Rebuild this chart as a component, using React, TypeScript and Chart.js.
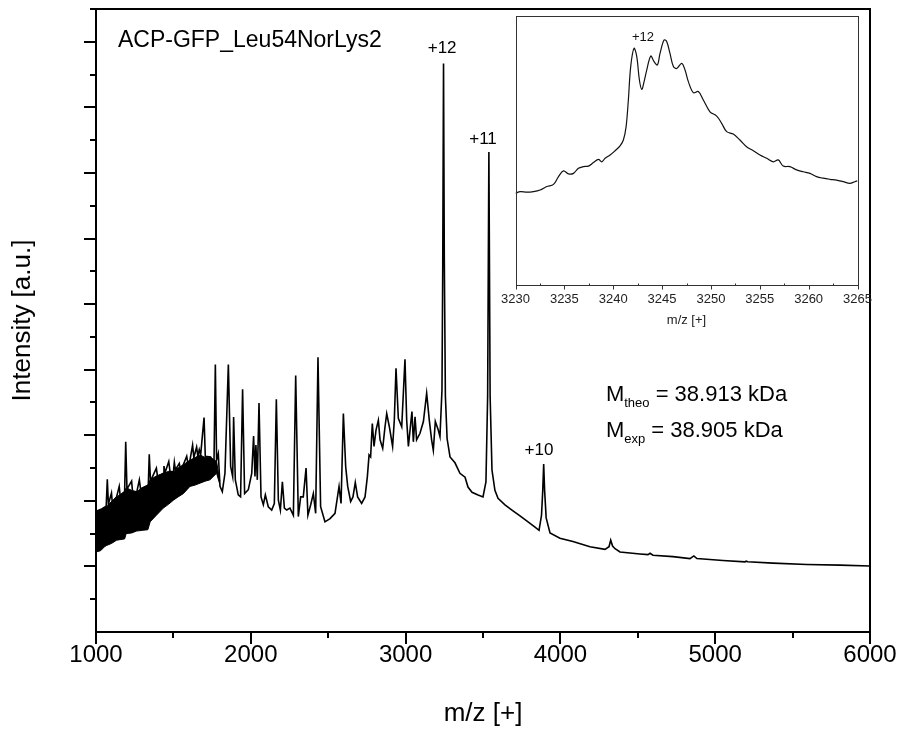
import React, { useEffect, useRef } from "react";
import { Chart, registerables } from "chart.js";

Chart.register(...registerables);

const FONT = "'Liberation Sans', Arial, Helvetica, sans-serif";

// ---------- main spectrum (m/z vs intensity, a.u.) ----------
const spectrumMz = [
  1000, 1040, 1066, 1073, 1080, 1100, 1105, 1133, 1150, 1156, 1185, 1192, 1200, 1230, 1236, 1263,
  1280, 1288, 1338, 1344, 1352, 1390, 1398, 1435, 1439, 1446, 1470, 1478, 1500, 1506, 1513, 1538,
  1546, 1564, 1586, 1594, 1607, 1624, 1632, 1650, 1658, 1667, 1676, 1698, 1706, 1740, 1762, 1771,
  1779, 1790, 1801, 1816, 1833, 1855, 1870, 1883, 1889, 1900, 1919, 1934, 1947, 1960, 1984, 2006,
  2018, 2027, 2033, 2042, 2053, 2066, 2081, 2094, 2113, 2135, 2152, 2165, 2178, 2191, 2204, 2217,
  2232, 2253, 2275, 2290, 2307, 2322, 2339, 2357, 2369, 2387, 2404, 2419, 2434, 2451, 2479, 2512,
  2544, 2570, 2583, 2598, 2613, 2626, 2645, 2660, 2675, 2690, 2716, 2738, 2753, 2764, 2774, 2785,
  2796, 2809, 2824, 2835, 2852, 2867, 2878, 2895, 2916, 2927, 2938, 2953, 2975, 2996, 3007, 3018,
  3033, 3041, 3050, 3061, 3071, 3093, 3115, 3136, 3153, 3168, 3179, 3192, 3211, 3222, 3235, 3240,
  3245, 3250, 3257, 3268, 3287, 3319, 3351, 3384, 3403, 3429, 3468, 3500, 3519, 3530, 3538, 3546,
  3558, 3577, 3597, 3642, 3687, 3739, 3791, 3836, 3862, 3878, 3886, 3892, 3898, 3908, 3933, 3997,
  4081, 4191, 4288, 4314, 4325, 4337, 4353, 4385, 4514, 4566, 4579, 4598, 4727, 4837, 4862, 4882,
  5050, 5192, 5200, 5210, 5373, 5591, 5806, 6000,
];
const spectrumIntensity = [
  1.84, 1.88, 1.92, 2.33, 1.95, 2.12, 1.98, 2.06, 2.22, 2.08, 2.14, 2.9, 2.18, 2.3, 2.14, 2.13,
  2.32, 2.18, 2.24, 2.71, 2.3, 2.5, 2.36, 2.42, 2.53, 2.43, 2.6, 2.45, 2.44, 2.59, 2.47, 2.57,
  2.48, 2.55, 2.68, 2.56, 2.62, 2.85, 2.66, 2.82, 2.68, 2.78, 2.7, 3.27, 2.68, 2.67, 2.55, 4.08,
  2.62, 2.72, 2.22, 2.14, 2.42, 4.08, 2.52, 2.37, 3.28, 2.32, 2.09, 2.06, 3.7, 2.11, 2.17, 2.42,
  2.99, 2.37, 2.85, 2.32, 3.49, 2.06, 1.94, 2.09, 1.91, 1.86, 1.96, 3.55, 2.01, 1.86, 2.29, 1.89,
  1.86, 1.89, 1.78, 3.91, 1.76, 2.06, 2.06, 2.5, 1.78, 1.94, 2.11, 1.81, 4.19, 1.91, 1.68, 1.73,
  1.81, 2.22, 1.96, 3.33, 2.52, 2.22, 1.99, 2.06, 2.28, 2.06, 1.96, 2.06, 2.37, 2.7, 2.67, 3.18,
  2.83, 3.08, 3.23, 2.93, 2.8, 3.13, 3.33, 3.13, 2.83, 3.23, 4.02, 3.26, 3.13, 4.16, 3.23, 2.83,
  3.18, 3.36, 2.9, 3.28, 2.93, 3.03, 3.21, 3.64, 3.23, 2.93, 2.77, 3.21, 3.08, 2.98, 3.69, 5.6,
  8.67, 5.7, 3.6, 2.95, 2.67, 2.58, 2.42, 2.36, 2.21, 2.13, 2.09, 2.06, 2.29, 3.6, 7.32, 3.6,
  2.47, 2.16, 2.04, 1.94, 1.86, 1.77, 1.68, 1.6, 1.55, 1.78, 2.16, 2.56, 2.16, 1.74, 1.51, 1.43,
  1.38, 1.3, 1.26, 1.3, 1.4, 1.31, 1.27, 1.22, 1.19, 1.18, 1.2, 1.17, 1.15, 1.12, 1.16, 1.12,
  1.09, 1.07, 1.08, 1.07, 1.05, 1.03, 1.02, 1.006,
];

// dense noise band at low m/z (upper / lower envelope)
const bandMz = [1000, 1030, 1055, 1069, 1100, 1133, 1185, 1195, 1230, 1263, 1300, 1335, 1350, 1390, 1435, 1470, 1500, 1530, 1564, 1607, 1640, 1672, 1705, 1736, 1779, 1800];
const bandUpper = [1.84, 1.86, 1.9, 1.91, 1.99, 2.06, 2.14, 2.2, 2.16, 2.14, 2.2, 2.24, 2.32, 2.38, 2.42, 2.45, 2.44, 2.5, 2.55, 2.62, 2.66, 2.7, 2.66, 2.67, 2.6, 2.3];
const bandLower = [1.22, 1.24, 1.3, 1.32, 1.35, 1.4, 1.42, 1.5, 1.51, 1.54, 1.55, 1.56, 1.68, 1.78, 1.89, 1.95, 2.01, 2.06, 2.11, 2.22, 2.24, 2.27, 2.3, 2.32, 2.42, 2.25];

// ---------- inset: +12 charge state, zoomed ----------
const insetMz = [
  3230.0, 3230.48, 3231.16, 3231.84, 3232.52, 3233.2, 3233.89, 3234.4, 3234.91, 3235.42, 3235.93,
  3236.44, 3236.95, 3237.46, 3237.98, 3238.49, 3238.83, 3239.17, 3239.68, 3240.19, 3240.7, 3241.04,
  3241.32, 3241.55, 3241.79, 3242.13, 3242.41, 3242.68, 3242.92, 3243.16, 3243.43, 3243.84, 3244.18,
  3244.52, 3244.79, 3245.2, 3245.47, 3245.81, 3246.16, 3246.5, 3247.01, 3247.35, 3247.69, 3248.2,
  3248.71, 3249.22, 3249.9, 3250.59, 3251.1, 3251.61, 3252.29, 3252.97, 3253.65, 3254.34, 3255.02,
  3255.7, 3256.38, 3256.89, 3257.4, 3258.08, 3258.77, 3259.45, 3260.13, 3260.81, 3261.49, 3262.17,
  3262.86, 3263.54, 3264.22, 3264.73, 3265.0,
];
const insetIntensity = [
  34.1, 34.7, 34.5, 34.7, 35.3, 36.6, 37.4, 40.3, 42.4, 41.3, 41.5,
  43.4, 44.0, 44.2, 45.5, 46.7, 45.8, 47.1, 48.3, 49.9, 51.7, 53.9,
  58.9, 68.8, 81.2, 88.0, 84.9, 76.2, 72.7, 75.6, 79.9, 85.1, 83.0,
  81.8, 86.1, 91.1, 90.5, 86.1, 81.2, 80.5, 82.4, 79.9, 75.6, 71.5,
  71.9, 68.8, 64.4, 62.8, 60.1, 57.0, 56.1, 53.9, 51.4, 49.9, 48.3,
  47.1, 45.8, 46.5, 44.2, 44.0, 42.8, 42.1, 41.5, 40.3, 39.7, 39.3,
  39.0, 38.4, 37.8, 38.4, 38.7,
];

// ---------- ticks ----------
const xMajorTicks = [1000, 2000, 3000, 4000, 5000, 6000];
const xMinorTicks = [1500, 2500, 3500, 4500, 5500];
const yMajorTicks = [1, 2, 3, 4, 5, 6, 7, 8, 9];
const yMinorTicks = [0.5, 1.5, 2.5, 3.5, 4.5, 5.5, 6.5, 7.5, 8.5, 9.5];
const insetMajorTicks = [3230, 3235, 3240, 3245, 3250, 3255, 3260, 3265];
const insetMinorTicks = [3232.5, 3237.5, 3242.5, 3247.5, 3252.5, 3257.5, 3262.5];

// ---------- texts ----------
const chartTitle = "ACP-GFP_Leu54NorLys2";
const peakLabels = ["+12", "+11", "+10"];
const peakLabelMz = [3236, 3500, 3862];
const peakLabelI = [8.9, 7.52, 2.77];
const massLines = [
  { sub: "theo", value: "= 38.913 kDa" },
  { sub: "exp", value: "= 38.905 kDa" },
];
const massAnchorMz = 4294;
const massBaselineI = [3.52, 2.97];
const insetLabel = "+12";

const toPts = (xs: number[], ys: number[]) => xs.map((x, i) => ({ x, y: ys[i] }));
const plainTick = (v: any) => String(v);

const mainDecor = {
  id: "mainDecor",
  afterDraw(chart: any) {
    const { ctx, chartArea: a, scales } = chart;
    const x = scales.x;
    const y = scales.y;
    ctx.save();
    ctx.strokeStyle = "#000";
    ctx.lineWidth = 2;
    ctx.strokeRect(a.left, a.top, a.right - a.left, a.bottom - a.top);
    ctx.beginPath();
    for (const v of xMajorTicks) {
      const p = Math.round(x.getPixelForValue(v));
      ctx.moveTo(p, a.bottom);
      ctx.lineTo(p, a.bottom + 12);
    }
    for (const v of xMinorTicks) {
      const p = Math.round(x.getPixelForValue(v));
      ctx.moveTo(p, a.bottom);
      ctx.lineTo(p, a.bottom + 6);
    }
    for (const v of yMajorTicks) {
      const p = Math.round(y.getPixelForValue(v));
      ctx.moveTo(a.left, p);
      ctx.lineTo(a.left - 12, p);
    }
    for (const v of yMinorTicks) {
      const p = Math.round(y.getPixelForValue(v));
      ctx.moveTo(a.left, p);
      ctx.lineTo(a.left - 6, p);
    }
    ctx.stroke();

    ctx.fillStyle = "#000";
    ctx.font = `23px ${FONT}`;
    ctx.textAlign = "left";
    ctx.textBaseline = "middle";
    ctx.fillText(chartTitle, x.getPixelForValue(1142), y.getPixelForValue(9.02));
    ctx.font = `17px ${FONT}`;
    ctx.textAlign = "center";
    peakLabels.forEach((t, i) => {
      ctx.fillText(t, x.getPixelForValue(peakLabelMz[i]), y.getPixelForValue(peakLabelI[i]));
    });
    ctx.textAlign = "left";
    ctx.textBaseline = "alphabetic";
    massLines.forEach((m, i) => {
      let px = x.getPixelForValue(massAnchorMz);
      const py = y.getPixelForValue(massBaselineI[i]);
      ctx.font = `22px ${FONT}`;
      ctx.fillText("M", px, py);
      px += ctx.measureText("M").width;
      ctx.font = `13px ${FONT}`;
      ctx.fillText(m.sub, px, py + 6);
      px += ctx.measureText(m.sub).width;
      ctx.font = `22px ${FONT}`;
      ctx.fillText(" " + m.value, px, py);
    });
    ctx.restore();
  },
};

const insetDecor = {
  id: "insetDecor",
  afterDraw(chart: any) {
    const { ctx, chartArea: a, scales } = chart;
    const x = scales.x;
    const y = scales.y;
    ctx.save();
    ctx.strokeStyle = "#333";
    ctx.lineWidth = 1;
    ctx.strokeRect(Math.round(a.left) + 0.5, Math.round(a.top) + 0.5, Math.round(a.right - a.left), Math.round(a.bottom - a.top));
    ctx.beginPath();
    const b = Math.round(a.bottom) + 0.5;
    for (const v of insetMajorTicks) {
      const p = Math.round(x.getPixelForValue(v)) + 0.5;
      ctx.moveTo(p, b);
      ctx.lineTo(p, b + 4);
    }
    for (const v of insetMinorTicks) {
      const p = Math.round(x.getPixelForValue(v)) + 0.5;
      ctx.moveTo(p, b);
      ctx.lineTo(p, b - 2);
    }
    ctx.stroke();
    ctx.fillStyle = "#111";
    ctx.font = `13px ${FONT}`;
    ctx.textAlign = "center";
    ctx.textBaseline = "middle";
    ctx.fillText(insetLabel, x.getPixelForValue(3243.05), y.getPixelForValue(92));
    ctx.restore();
  },
};

export default function App() {
  const mainRef = useRef<HTMLCanvasElement>(null);
  const insetRef = useRef<HTMLCanvasElement>(null);

  useEffect(() => {
    document.body.style.margin = "0";
    Chart.defaults.color = "#000";
    const main = new Chart(mainRef.current!, {
      type: "line",
      data: {
        datasets: [
          { data: toPts(bandMz, bandLower), borderColor: "#000", borderWidth: 1, pointRadius: 0, fill: false },
          { data: toPts(bandMz, bandUpper), borderColor: "#000", borderWidth: 1, pointRadius: 0, backgroundColor: "#000", fill: "-1" },
          { data: toPts(spectrumMz, spectrumIntensity), borderColor: "#000", borderWidth: 1.6, pointRadius: 0, fill: false, tension: 0 },
        ],
      },
      options: {
        responsive: false,
        animation: false,
        devicePixelRatio: 1,
        layout: { padding: { top: 9, right: 34, left: 0, bottom: 0 } },
        plugins: { legend: { display: false }, tooltip: { enabled: false } },
        scales: {
          x: {
            type: "linear",
            min: 1000,
            max: 6000,
            ticks: { stepSize: 1000, font: { family: FONT, size: 24 }, color: "#000", padding: 9, maxRotation: 0, callback: plainTick },
            grid: { display: false, drawTicks: false },
            border: { display: false },
            title: { display: true, text: "m/z [+]", font: { family: FONT, size: 26 }, color: "#000", padding: { top: 0, bottom: 4 } },
            afterFit: (s: any) => { s.height = 101; s.paddingLeft = 0; s.paddingRight = 0; },
          },
          y: {
            type: "linear",
            min: 0,
            max: 9.5,
            ticks: { display: false },
            grid: { display: false, drawTicks: false },
            border: { display: false },
            title: { display: true, text: "Intensity [a.u.]", font: { family: FONT, size: 26 }, color: "#000", padding: { top: 7, bottom: 0 } },
            afterFit: (s: any) => { s.width = 96; s.paddingTop = 0; s.paddingBottom = 0; },
          },
        },
      },
      plugins: [mainDecor],
    } as any);

    const inset = new Chart(insetRef.current!, {
      type: "line",
      data: {
        datasets: [
          { data: toPts(insetMz, insetIntensity), borderColor: "#111", borderWidth: 1.2, pointRadius: 0, fill: false, tension: 0.35 },
        ],
      },
      options: {
        responsive: false,
        animation: false,
        devicePixelRatio: 1,
        layout: { padding: { top: 16, right: 22.5, left: 35.5, bottom: 0 } },
        plugins: { legend: { display: false }, tooltip: { enabled: false } },
        scales: {
          x: {
            type: "linear",
            min: 3230,
            max: 3265,
            ticks: { stepSize: 5, font: { family: FONT, size: 13 }, color: "#222", padding: 6.5, maxRotation: 0, callback: plainTick },
            grid: { display: false, drawTicks: false },
            border: { display: false },
            title: { display: true, text: "m/z [+]", font: { family: FONT, size: 13 }, color: "#222", padding: { top: 0, bottom: 12 } },
            afterFit: (s: any) => { s.height = 55; s.paddingLeft = 0; s.paddingRight = 0; },
          },
          y: { type: "linear", min: 0, max: 100, display: false },
        },
      },
      plugins: [insetDecor],
    } as any);

    return () => {
      main.destroy();
      inset.destroy();
    };
  }, []);

  return (
    <div style={{ position: "relative", width: 904, height: 733, background: "#fff" }}>
      <canvas ref={mainRef} width={904} height={733} style={{ position: "absolute", left: 0, top: 0, width: 904, height: 733 }} />
      <canvas ref={insetRef} width={400} height={340} style={{ position: "absolute", left: 480, top: 0, width: 400, height: 340 }} />
    </div>
  );
}
